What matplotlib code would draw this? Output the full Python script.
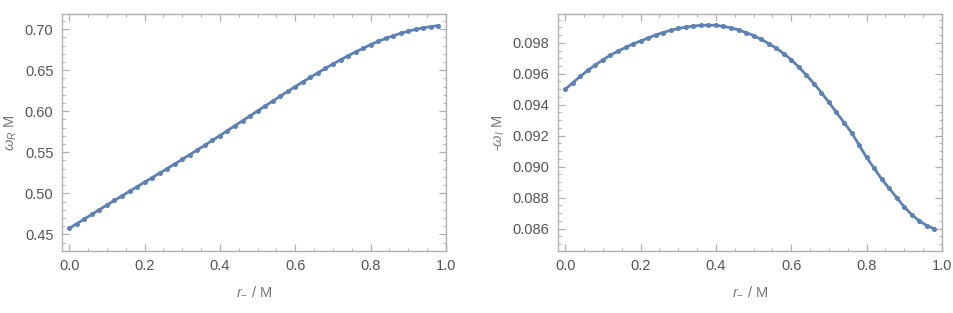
import numpy as np
import matplotlib
matplotlib.use("Agg")
import matplotlib.pyplot as plt
from matplotlib.ticker import MultipleLocator, FormatStrFormatter

# r_- / M sample points (0 .. 0.98, step 0.02)
r_minus = np.arange(50) * 0.02

# omega_R M
omega_R = [
    0.4573, 0.4630, 0.4687, 0.4744, 0.4801, 0.4858, 0.4914, 0.4969, 0.5025, 0.5080,
    0.5136, 0.5191, 0.5247, 0.5302, 0.5358, 0.5414, 0.5471, 0.5528, 0.5586, 0.5645,
    0.5704, 0.5764, 0.5824, 0.5884, 0.5944, 0.6004, 0.6064, 0.6123, 0.6183, 0.6242,
    0.6300, 0.6357, 0.6413, 0.6468, 0.6522, 0.6575, 0.6626, 0.6675, 0.6722, 0.6766,
    0.6812, 0.6851, 0.6886, 0.6919, 0.6949, 0.6975, 0.6997, 0.7016, 0.7031, 0.7043,
]

# -omega_I M
omega_I = [
    0.09500, 0.09542, 0.09583, 0.09622, 0.09657, 0.09690, 0.09720, 0.09746, 0.09770, 0.09792,
    0.09812, 0.09830, 0.09850, 0.09866, 0.09880, 0.09892, 0.09901, 0.09908, 0.09912, 0.09914,
    0.09912, 0.09906, 0.09896, 0.09883, 0.09866, 0.09846, 0.09822, 0.09795, 0.09765, 0.09730,
    0.09690, 0.09643, 0.09592, 0.09537, 0.09478, 0.09415, 0.09350, 0.09285, 0.09220, 0.09140,
    0.09060, 0.08990, 0.08920, 0.08860, 0.08800, 0.08740, 0.08690, 0.08650, 0.08620, 0.08600,
]

plt.rcParams['font.family'] = ['Liberation Sans', 'DejaVu Sans']
plt.rcParams['mathtext.fontset'] = 'custom'
plt.rcParams['mathtext.rm'] = 'Liberation Sans'
plt.rcParams['mathtext.it'] = 'Liberation Sans:italic'

line_col = '#5e81b5'
frame_col = '#b0b0b0'
tick_col = '#555555'
label_col = '#777777'

fig = plt.figure(figsize=(9.54, 3.13), dpi=100)
ax1 = fig.add_axes([0.0647, 0.198, 0.4028, 0.757])
ax2 = fig.add_axes([0.5846, 0.198, 0.4028, 0.757])


def style(ax, ymaj, ymin, fmt):
    ax.set_xlim(-0.02, 1.0)
    ax.xaxis.set_major_locator(MultipleLocator(0.2))
    ax.xaxis.set_minor_locator(MultipleLocator(0.05))
    ax.xaxis.set_major_formatter(FormatStrFormatter('%.1f'))
    ax.yaxis.set_major_locator(MultipleLocator(ymaj))
    ax.yaxis.set_minor_locator(MultipleLocator(ymin))
    ax.yaxis.set_major_formatter(FormatStrFormatter(fmt))
    for s in ax.spines.values():
        s.set_color(frame_col)
        s.set_linewidth(1.0)
    ax.tick_params(which='both', direction='in', top=True, right=True,
                   color=frame_col, labelcolor=tick_col, labelsize=10.5, pad=6)
    ax.tick_params(which='major', length=5, width=0.9)
    ax.tick_params(which='minor', length=2.5, width=0.7)


ax1.plot(r_minus, omega_R, color=line_col, lw=2.0, marker='o', ms=2.6)
style(ax1, 0.05, 0.01, '%.2f')
ax1.set_ylim(0.4297, 0.7183)
ax1.set_xlabel(r'$r_{-}$ / M', color=label_col, fontsize=10.5, labelpad=8)
ax1.set_ylabel(r'$\omega_R$ M', color=label_col, fontsize=10.5, labelpad=4)

ax2.plot(r_minus, omega_I, color=line_col, lw=2.0, marker='o', ms=2.6)
style(ax2, 0.002, 0.0005, '%.3f')
ax2.set_ylim(0.08456, 0.09985)
ax2.set_xlabel(r'$r_{-}$ / M', color=label_col, fontsize=10.5, labelpad=8)
ax2.set_ylabel(r'-$\omega_I$ M', color=label_col, fontsize=10.5, labelpad=4)

fig.savefig('out.png', dpi=100)
